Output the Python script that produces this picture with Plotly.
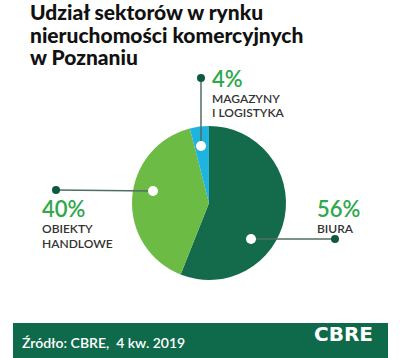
import plotly.graph_objects as go

sectors = ["BIURA", "OBIEKTY HANDLOWE", "MAGAZYNY I LOGISTYKA"]
shares = [56, 40, 4]
colors = ["#146B4C", "#6CBB45", "#1FB3DF"]

W, H = 400, 358
def px(x): return x / W
def py(y): return 1 - y / H

cx, cy, r = 209, 203, 77

fig = go.Figure(go.Pie(
    labels=sectors, values=shares, sort=False, direction="clockwise", rotation=0,
    marker=dict(colors=colors, line=dict(width=0)), textinfo="none", hoverinfo="label+percent",
    domain=dict(x=[px(cx - r), px(cx + r)], y=[py(cy + r), py(cy - r)]),
    showlegend=False,
))

shapes = []
shapes.append(dict(type="rect", xref="paper", yref="paper", x0=px(13), x1=px(388), y0=py(358), y1=py(323),
                   fillcolor="#0F6A4B", line=dict(width=0), layer="below"))

def connector(x0, y0, x1, y1):
    shapes.append(dict(type="line", xref="paper", yref="paper", x0=px(x0), y0=py(y0), x1=px(x1), y1=py(y1),
                       line=dict(color="#4F6E62", width=1.5)))
    shapes.append(dict(type="circle", xref="paper", yref="paper", x0=px(x0 - 4), x1=px(x0 + 4),
                       y0=py(y0 + 4), y1=py(y0 - 4), fillcolor="#0F5A3E", line=dict(width=0)))
    shapes.append(dict(type="circle", xref="paper", yref="paper", x0=px(x1 - 5), x1=px(x1 + 5),
                       y0=py(y1 + 5), y1=py(y1 - 5), fillcolor="white", line=dict(width=0)))

connector(201, 78, 201, 146)
connector(56, 190, 153, 191)
connector(335, 239, 251, 239)

ann = []
def text(x, y, s, size, color, family="Lato", weight="normal", xanchor="left"):
    ann.append(dict(x=px(x), y=py(y), xref="paper", yref="paper", text=s,
                    showarrow=False, xanchor=xanchor, yanchor="middle",
                    font=dict(size=size, color=color, family=family, weight=weight)))

title_lines = ["Udział sektorów w rynku", "nieruchomości komercyjnych", "w Poznaniu"]
for i, t in enumerate(title_lines):
    text(28, 12 + 22.5 * i, t, 21, "#111111", weight=900)

green = "#2DA84A"
gray = "#333333"
text(210, 79, f"{shares[2]}%", 22, green, weight=600)
text(210, 98, "MAGAZYNY", 12, gray, weight=600)
text(210, 113, "I LOGISTYKA", 12, gray, weight=600)

text(40, 208, f"{shares[1]}%", 22, green, weight=600)
text(40, 228, "OBIEKTY", 12, gray, weight=600)
text(40, 244, "HANDLOWE", 12, gray, weight=600)

text(315, 208, f"{shares[0]}%", 22, green, weight=600)
text(315, 228, "BIURA", 12, gray, weight=600)

text(20, 342, "Źródło: CBRE,  4 kw. 2019", 14, "white", weight=600)
text(375, 334, "CBRE", 20, "white", family="DejaVu Sans", weight="bold", xanchor="right")

fig.update_layout(width=W, height=H, margin=dict(l=0, r=0, t=0, b=0),
                  paper_bgcolor="white", plot_bgcolor="white",
                  shapes=shapes, annotations=ann)
fig.write_html("out.html", config={"displayModeBar": False},
               post_script="document.body.style.margin='0';")
